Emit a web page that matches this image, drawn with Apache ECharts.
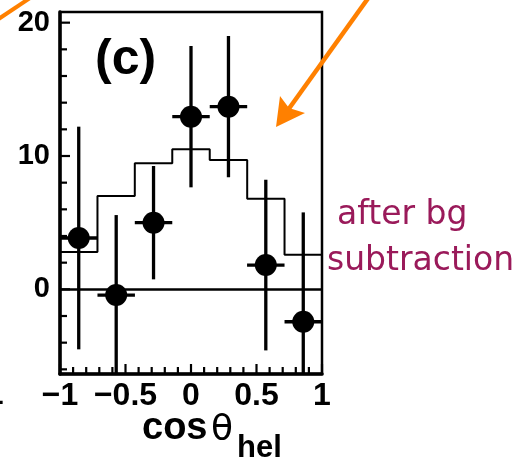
<!DOCTYPE html>
<html>
<head>
<meta charset="utf-8">
<script src="https://cdn.jsdelivr.net/npm/echarts@6/dist/echarts.min.js"></script>
<style>
html,body{margin:0;padding:0;background:#fff;}
#chart{width:529px;height:461px;}
</style>
</head>
<body>
<div id="chart"></div>
<script>
// ---- data ----
const binEdges   = [-1, -0.714, -0.429, -0.143, 0.143, 0.429, 0.714, 1];
const histValues = [2.8, 7.0, 9.45, 10.5, 9.7, 6.8, 2.6];
const pointX     = [-0.857, -0.571, -0.286, 0, 0.286, 0.571, 0.857];
const pointY     = [3.85, -0.43, 5.0, 12.95, 13.7, 1.82, -2.43];
const pointErr   = [8.35, 6.0, 4.25, 5.3, 5.3, 6.4, 8.2];
const xErr       = [0.143, 0.143, 0.143, 0.143, 0.143, 0.143, 0.143];
const xMajorTicks = [-1, -0.5, 0, 0.5, 1];
const xMinorTicks = [-0.9, -0.8, -0.7, -0.6, -0.4, -0.3, -0.2, -0.1, 0.1, 0.2, 0.3, 0.4, 0.6, 0.7, 0.8, 0.9];
const yLabelTicks = [0, 10, 20];
const yMinorTicks = [-6, -4, -2, 2, 4, 6, 8, 12, 14, 16, 18];

const histData = binEdges.map((e, i) => [e, i < histValues.length ? histValues[i] : histValues[histValues.length - 1]]);
const pointData = pointX.map((x, i) => [x, pointY[i]]);
const errData = pointX.map((x, i) => [x, pointY[i], pointErr[i], xErr[i]]);
// tick marks: [value, axis (0 = x, 1 = y), major flag]
const tickData = []
  .concat(xMajorTicks.map(v => [v, 0, 1]))
  .concat(xMinorTicks.map(v => [v, 0, 0]))
  .concat(yLabelTicks.map(v => [v, 1, 1]))
  .concat(yMinorTicks.map(v => [v, 1, 0]));

const chart = echarts.init(document.getElementById('chart'), null, {renderer: 'canvas'});
const fmt = v => (v < 0 ? '\u2212' + Math.abs(v) : String(v));

chart.setOption({
  animation: false,
  backgroundColor: '#ffffff',
  grid: {left: 60, right: 207, top: 12, bottom: 87, show: true, borderColor: '#000', borderWidth: 2.5},
  xAxis: {
    type: 'value', min: -1, max: 1, interval: 0.5,
    axisLine: {show: true, onZero: false, lineStyle: {color: '#000', width: 3.5}},
    axisTick: {show: false},
    axisLabel: {formatter: fmt, color: '#000', fontFamily: 'Liberation Sans', fontWeight: 'bold', fontSize: 32, margin: 6},
    splitLine: {show: false}
  },
  yAxis: {
    type: 'value', min: -6.35, max: 20.8,
    axisLine: {show: true, onZero: false, lineStyle: {color: '#000', width: 3.5}},
    axisTick: {show: false},
    axisLabel: {customValues: yLabelTicks, color: '#000', fontFamily: 'Liberation Sans', fontWeight: 'bold', fontSize: 29, margin: 10},
    splitLine: {show: false}
  },
  series: [{
    type: 'line', step: 'end', data: histData, symbol: 'none',
    lineStyle: {color: '#000', width: 2},
    markLine: {silent: true, symbol: 'none', label: {show: false}, lineStyle: {color: '#000', width: 2.5, type: 'solid'}, data: [{yAxis: 0}]}
  }, {
    type: 'custom', data: tickData, clip: false, silent: true, z: 5,
    renderItem: function (params, api) {
      const cs = params.coordSys;
      const v = api.value(0), axis = api.value(1), major = api.value(2);
      const len = major ? 10 : 7;
      if (axis === 0) {
        const px = api.coord([v, 0])[0];
        const by = cs.y + cs.height;
        return {type: 'line', shape: {x1: px, y1: by, x2: px, y2: by - len}, style: {stroke: '#000', lineWidth: 2.2}};
      }
      const py = api.coord([0, v])[1];
      return {type: 'line', shape: {x1: cs.x, y1: py, x2: cs.x + len, y2: py}, style: {stroke: '#000', lineWidth: 2.2}};
    }
  }, {
    type: 'custom', data: errData, clip: true,
    renderItem: function (params, api) {
      const x = api.value(0), y = api.value(1), e = api.value(2), xe = api.value(3);
      const top = api.coord([x, y + e]), bot = api.coord([x, y - e]);
      const l = api.coord([x - xe, y]), r = api.coord([x + xe, y]);
      return {type: 'group', children: [
        {type: 'line', shape: {x1: top[0], y1: top[1], x2: bot[0], y2: bot[1]}, style: {stroke: '#000', lineWidth: 3.3}},
        {type: 'line', shape: {x1: l[0], y1: l[1], x2: r[0], y2: r[1]}, style: {stroke: '#000', lineWidth: 3.3}}
      ]};
    }
  }, {
    type: 'scatter', data: pointData, symbol: 'circle', symbolSize: 22,
    itemStyle: {color: '#000', opacity: 1}
  }],
  graphic: [
    {type: 'text', x: 95, y: 60, style: {text: '(c)', font: 'bold 50px "Liberation Sans"', fill: '#000', verticalAlign: 'middle'}},
    {type: 'text', x: 142, y: 429, style: {text: 'cos', font: 'bold 38px "Liberation Sans"', fill: '#000', verticalAlign: 'middle'}},
    {type: 'text', x: 211, y: 431, style: {text: '\u03b8', font: '36px "DejaVu Sans"', fill: '#000', verticalAlign: 'middle'}},
    {type: 'text', x: 237, y: 448, style: {text: 'hel', font: 'bold 31px "Liberation Sans"', fill: '#000', verticalAlign: 'middle'}},
    {type: 'text', x: 337, y: 215.6, style: {text: 'after bg', font: '33px "DejaVu Sans"', fill: '#9a1a5a', verticalAlign: 'middle'}},
    {type: 'text', x: 327, y: 261.6, style: {text: 'subtraction', font: '33px "DejaVu Sans"', fill: '#9a1a5a', verticalAlign: 'middle'}},
    {type: 'text', x: 3.5, y: 395, style: {text: '1', font: 'bold 32px "Liberation Sans"', fill: '#000', align: 'right', verticalAlign: 'middle'}},
    {type: 'line', shape: {x1: 374, y1: -10, x2: 288, y2: 110}, style: {stroke: '#ff8000', lineWidth: 4.5}},
    {type: 'polygon', shape: {points: [[276, 127], [280, 96], [289, 108], [305, 113]]}, style: {fill: '#ff8000'}},
    {type: 'line', shape: {x1: -3, y1: 20, x2: 30, y2: -2}, style: {stroke: '#ff8000', lineWidth: 4}}
  ]
});
</script>
</body>
</html>
